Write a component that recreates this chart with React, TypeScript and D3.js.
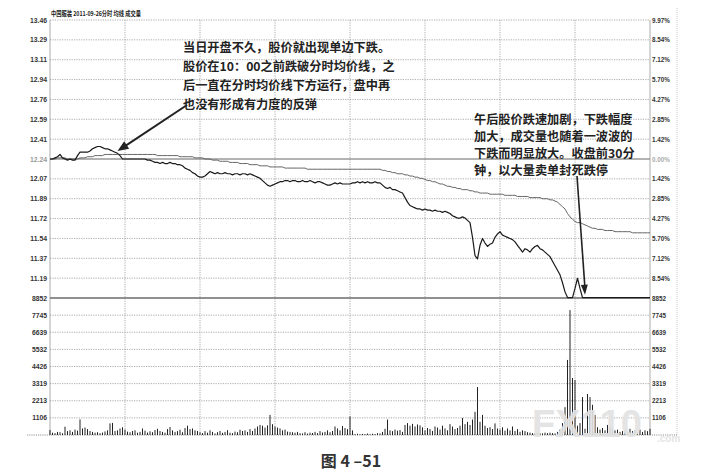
import React from "react";
import * as d3 from "d3";

// 中国服装 2011-09-26 分时图（每分钟一个点，0..240）
const prevClose = 12.24;

const price = [
  12.24, 12.24, 12.25, 12.26, 12.28, 12.25, 12.24, 12.23, 12.24, 12.23,
  12.23, 12.27, 12.3, 12.3, 12.3, 12.3, 12.31, 12.33, 12.34, 12.35,
  12.35, 12.34, 12.33, 12.33, 12.32, 12.31, 12.3, 12.29, 12.27, 12.24,
  12.24, 12.24, 12.24, 12.24, 12.24, 12.24, 12.24, 12.24, 12.24, 12.23,
  12.23, 12.22, 12.21, 12.21, 12.2, 12.21, 12.2, 12.2, 12.21, 12.2,
  12.2, 12.19, 12.19, 12.18, 12.16, 12.15, 12.14, 12.12, 12.11, 12.09,
  12.08, 12.08, 12.09, 12.11, 12.13, 12.12, 12.11, 12.12, 12.11, 12.11,
  12.12, 12.11, 12.11, 12.1, 12.11, 12.11, 12.1, 12.11, 12.11, 12.1,
  12.11, 12.1, 12.09, 12.08, 12.07, 12.05, 12.03, 12.01, 12.0, 12.01,
  12.02, 12.03, 12.04, 12.04, 12.05, 12.05, 12.04, 12.05, 12.05, 12.04,
  12.04, 12.05, 12.04, 12.04, 12.05, 12.04, 12.03, 12.04, 12.04, 12.03,
  12.02, 12.01, 12.01, 12.02, 12.03, 12.02, 12.03, 12.02, 12.02, 12.02,
  12.02, 12.03, 12.03, 12.04, 12.03, 12.04, 12.03, 12.04, 12.03, 12.03,
  12.04, 12.03, 12.03, 12.01, 11.99, 11.98, 11.99, 11.97, 11.97, 11.96,
  11.95, 11.94, 11.9, 11.86, 11.83, 11.82, 11.81, 11.8, 11.8, 11.79,
  11.8, 11.79, 11.79, 11.78, 11.79, 11.78, 11.78, 11.77, 11.78, 11.77,
  11.76, 11.74, 11.73, 11.72, 11.72, 11.73, 11.72, 11.7, 11.68, 11.55,
  11.39, 11.36, 11.48, 11.54, 11.5, 11.47, 11.49, 11.5, 11.55, 11.58,
  11.6, 11.57, 11.56, 11.55, 11.54, 11.53, 11.51, 11.48, 11.45, 11.42,
  11.45, 11.44, 11.42, 11.45, 11.47, 11.48, 11.45, 11.44, 11.42, 11.4,
  11.38, 11.34, 11.3, 11.26, 11.22, 11.15, 11.07, 11.02, 11.02, 11.02,
  11.1, 11.19, 11.1, 11.02, 11.02, 11.02, 11.02, 11.02, 11.02, 11.02,
  11.02, 11.02, 11.02, 11.02, 11.02, 11.02, 11.02, 11.02, 11.02, 11.02,
  11.02, 11.02, 11.02, 11.02, 11.02, 11.02, 11.02, 11.02, 11.02, 11.02,
  11.02,
];

// 分时均价线
const avgPrice = [
  12.24, 12.24, 12.24, 12.25, 12.25, 12.25, 12.25, 12.24, 12.24, 12.24,
  12.24, 12.24, 12.25, 12.25, 12.25, 12.26, 12.26, 12.26, 12.27, 12.27,
  12.27, 12.27, 12.28, 12.28, 12.28, 12.28, 12.28, 12.28, 12.28, 12.28,
  12.28, 12.28, 12.28, 12.28, 12.28, 12.28, 12.28, 12.28, 12.28, 12.28,
  12.28, 12.28, 12.28, 12.27, 12.27, 12.27, 12.27, 12.27, 12.27, 12.27,
  12.27, 12.27, 12.26, 12.26, 12.26, 12.26, 12.26, 12.26, 12.25, 12.25,
  12.25, 12.25, 12.24, 12.24, 12.24, 12.23, 12.23, 12.23, 12.22, 12.22,
  12.22, 12.22, 12.21, 12.21, 12.21, 12.21, 12.2, 12.2, 12.2, 12.2,
  12.19, 12.19, 12.19, 12.19, 12.18, 12.18, 12.18, 12.18, 12.17, 12.17,
  12.17, 12.17, 12.17, 12.17, 12.16, 12.16, 12.16, 12.16, 12.16, 12.16,
  12.16, 12.16, 12.16, 12.15, 12.15, 12.15, 12.15, 12.15, 12.15, 12.15,
  12.15, 12.15, 12.15, 12.15, 12.15, 12.15, 12.15, 12.15, 12.15, 12.15,
  12.15, 12.15, 12.15, 12.15, 12.15, 12.15, 12.15, 12.15, 12.15, 12.15,
  12.15, 12.15, 12.15, 12.14, 12.14, 12.13, 12.13, 12.12, 12.12, 12.11,
  12.11, 12.11, 12.1, 12.1, 12.09, 12.09, 12.08, 12.08, 12.07, 12.07,
  12.06, 12.05, 12.05, 12.04, 12.04, 12.03, 12.02, 12.02, 12.01, 12.0,
  12.0, 11.99, 11.99, 11.98, 11.98, 11.97, 11.97, 11.97, 11.96, 11.96,
  11.95, 11.95, 11.94, 11.94, 11.94, 11.94, 11.93, 11.93, 11.93, 11.93,
  11.93, 11.93, 11.92, 11.92, 11.92, 11.92, 11.92, 11.91, 11.91, 11.91,
  11.91, 11.91, 11.9, 11.9, 11.9, 11.9, 11.9, 11.89, 11.89, 11.89,
  11.88, 11.88, 11.87, 11.86, 11.84, 11.82, 11.8, 11.76, 11.73, 11.71,
  11.69, 11.68, 11.68, 11.67, 11.66, 11.65, 11.64, 11.63, 11.63, 11.62,
  11.62, 11.62, 11.61, 11.61, 11.61, 11.61, 11.6, 11.6, 11.6, 11.6,
  11.6, 11.6, 11.6, 11.59, 11.59, 11.59, 11.59, 11.59, 11.59, 11.59,
  11.59,
];

// 成交量（手）
const volume = [
  320, 150, 120, 200, 180, 110, 540, 250, 300, 200,
  350, 280, 1010, 420, 480, 380, 260, 200, 150, 180,
  120, 160, 230, 300, 750, 780, 260, 300, 420, 500,
  350, 220, 180, 260, 300, 150, 200, 420, 280, 160,
  240, 180, 320, 400, 260, 200, 150, 380, 520, 300,
  200, 250, 340, 180, 450, 600, 380, 420, 300, 260,
  180, 120, 250, 150, 300, 200, 100, 180, 260, 140,
  200, 310, 150, 120, 220, 180, 340, 260, 300, 200,
  380, 260, 420, 550, 650, 600, 480, 620, 1300, 700,
  550, 480, 420, 300, 350, 220, 200, 180, 150, 200,
  120, 100, 180, 90, 150, 130, 200, 120, 250, 160,
  200, 300, 180, 260, 550, 420, 300, 580, 450, 380,
  1200, 300, 60, 80, 50, 70, 60, 90, 50, 80,
  60, 120, 100, 200, 400, 1000, 300, 250, 350, 280,
  320, 200, 650, 770, 600, 720, 550, 680, 620, 500,
  300, 450, 380, 260, 550, 480, 350, 600, 420, 300,
  700, 550, 380, 450, 600, 1100, 700, 850, 650, 1000,
  1500, 3100, 850, 1300, 600, 450, 500, 380, 750, 420,
  350, 500, 280, 420, 300, 550, 260, 380, 200, 300,
  250, 180, 150, 120, 100, 150, 120, 100, 150, 120,
  150, 120, 100, 200, 350, 770, 1800, 4850, 8070, 3680,
  3550, 600, 770, 2450, 400, 2650, 2450, 1950, 1300, 500,
  350, 450, 300, 650, 500, 400, 300, 350, 200, 250,
  300, 200, 400, 250, 300, 180, 350, 200, 300, 250,
  400,
];

const priceLabels = ["13.46", "13.29", "13.11", "12.94", "12.76", "12.59", "12.41", "12.24", "12.07", "11.89", "11.72", "11.54", "11.37", "11.19"];
const pctLabels = ["9.97%", "8.54%", "7.12%", "5.70%", "4.27%", "2.85%", "1.42%", "0.00%", "1.42%", "2.85%", "4.27%", "5.70%", "7.12%", "8.54%"];
const volMax = 8852;
const volLabels = ["8852", "7745", "6639", "5532", "4426", "3319", "2213", "1106"];
const timeGrid = [0, 30, 60, 90, 120, 150, 180, 210, 240];

const header = "中国服装   2011-09-26分时 均线 成交量";
const note1 = ["当日开盘不久，股价就出现单边下跌。", "股价在10：00之前跌破分时均价线，之", "后一直在分时均价线下方运行，盘中再", "也没有形成有力度的反弹"];
const note2 = ["午后股价跌速加剧，下跌幅度", "加大，成交量也随着一波波的", "下跌而明显放大。收盘前30分", "钟，以大量卖单封死跌停"];

const W = 716;
const H = 473;
const left = 50;
const right = 650;
const priceTop = 20;
const priceBottom = 298;
const volBottom = 435;

const NUM = "'Liberation Sans', Arial, sans-serif";
const CJK = "'Noto Sans CJK SC', 'Noto Sans', sans-serif";

const arrowHead = (x1: number, y1: number, x2: number, y2: number, len: number, half: number) => {
  const a = Math.atan2(y2 - y1, x2 - x1);
  const bx = x2 - len * Math.cos(a);
  const by = y2 - len * Math.sin(a);
  const px = -Math.sin(a) * half;
  const py = Math.cos(a) * half;
  return `${x2},${y2} ${bx + px},${by + py} ${bx - px},${by - py}`;
};

export default function App() {
  const step = (prevClose * 0.1) / 7;
  const x = d3.scaleLinear().domain([0, 240]).range([left, right]);
  const yP = d3
    .scaleLinear()
    .domain([prevClose - 7 * step, prevClose + 7 * step])
    .range([priceBottom, priceTop]);
  const yV = d3.scaleLinear().domain([0, volMax]).range([volBottom, priceBottom]);

  const line = d3
    .line<number>()
    .x((_, i) => x(i))
    .y((d) => yP(d));

  const tip1: [number, number] = [x(27), yP(12.31)];
  const from1: [number, number] = [187, 105];
  const tip2: [number, number] = [x(214), yP(11.045)];
  const from2: [number, number] = [577, 176];

  return (
    <svg
      width={W}
      height={H}
      style={{ position: "absolute", left: 0, top: 0, background: "#fff" }}
    >
      <rect width={W} height={H} fill="#fff" />

      {/* 标题 */}
      <text
        x={51}
        y={16}
        fontFamily={CJK}
        fontSize={6.5}
        fontWeight={700}
        fill="#222"
        textLength={90}
        lengthAdjust="spacingAndGlyphs"
      >
        {header}
      </text>

      {/* 右侧外框 */}
      <line x1={677} x2={677} y1={8} y2={volBottom} stroke="#bbb" strokeWidth={0.8} strokeDasharray="1,1" />

      {/* 价格网格 */}
      {priceLabels.map((lab, k) => {
        const y = yP(prevClose + (7 - k) * step);
        const zero = k === 7;
        return (
          <g key={"p" + k}>
            <line
              x1={left}
              x2={right}
              y1={y}
              y2={y}
              stroke={zero ? "#666" : "#888"}
              strokeWidth={zero ? 1 : 0.7}
              strokeDasharray={zero ? undefined : "1.2,1.2"}
            />
            <text x={47} y={y + 2.5} textAnchor="end" fontFamily={NUM} fontSize={6.8} fontWeight={700} fill={zero ? "#999" : "#333"}>
              {lab}
            </text>
            <text x={652} y={y + 2.5} fontFamily={NUM} fontSize={6.3} fontWeight={700} fill={zero ? "#aaa" : "#333"}>
              {pctLabels[k]}
            </text>
          </g>
        );
      })}

      {/* 成交量网格 */}
      {volLabels.map((lab, k) => {
        const y = yV((volMax * (8 - k)) / 8);
        const top = k === 0;
        return (
          <g key={"v" + k}>
            <line
              x1={left}
              x2={right}
              y1={y}
              y2={y}
              stroke={top ? "#222" : "#888"}
              strokeWidth={top ? 1.1 : 0.7}
              strokeDasharray={top ? undefined : "1.2,1.2"}
            />
            <text x={47} y={y + 2.5} textAnchor="end" fontFamily={NUM} fontSize={6.8} fontWeight={700} fill="#333">
              {lab}
            </text>
            <text x={652} y={y + 2.5} fontFamily={NUM} fontSize={6.3} fontWeight={700} fill="#333">
              {lab}
            </text>
          </g>
        );
      })}
      <line x1={27} x2={677} y1={volBottom} y2={volBottom} stroke="#777" strokeWidth={0.8} strokeDasharray="1.2,1" />

      {/* 时间网格 */}
      {timeGrid.map((t) => (
        <line
          key={"t" + t}
          x1={x(t)}
          x2={x(t)}
          y1={priceTop}
          y2={volBottom}
          stroke="#888"
          strokeWidth={0.7}
          strokeDasharray={t === 0 || t === 240 ? undefined : "1.2,1.2"}
        />
      ))}

      {/* 成交量柱 */}
      {volume.map((v, i) => (
        <line key={"b" + i} x1={x(i)} x2={x(i)} y1={volBottom} y2={yV(v)} stroke="#222" strokeWidth={1} />
      ))}

      {/* 均价线与价格线 */}
      <path d={line(avgPrice) || ""} fill="none" stroke="#555" strokeWidth={0.9} />
      <path d={line(price) || ""} fill="none" stroke="#1a1a1a" strokeWidth={1.2} strokeLinejoin="round" />

      {/* 水印 */}
      <g fill="#e2e2e2" opacity={0.92} fontFamily={NUM} fontWeight={700}>
        <text x={532} y={437} fontSize={38}>FX110</text>
        <text x={657} y={442} fontSize={10}>.com</text>
      </g>

      {/* 注释 */}
      <g fontFamily={CJK} fontSize={12.2} fontWeight={700} fill="#222">
        {note1.map((s, k) => (
          <text key={"n1" + k} x={183} y={52 + k * 19}>{s}</text>
        ))}
        {note2.map((s, k) => (
          <text key={"n2" + k} x={474} y={124 + k * 17}>{s}</text>
        ))}
      </g>

      <line x1={from1[0]} y1={from1[1]} x2={tip1[0] + 6} y2={tip1[1] - 4} stroke="#222" strokeWidth={2} />
      <polygon points={arrowHead(from1[0], from1[1], tip1[0], tip1[1], 11, 4.5)} fill="#222" />
      <line x1={from2[0]} y1={from2[1]} x2={tip2[0]} y2={tip2[1] - 6} stroke="#222" strokeWidth={1.6} />
      <polygon points={arrowHead(from2[0], from2[1], tip2[0], tip2[1], 10, 3.5)} fill="#222" />

      {/* 图题 */}
      <text x={351} y={467} textAnchor="middle" fontFamily={CJK} fontSize={16} fontWeight={700} fill="#333">
        图 4 –51
      </text>
    </svg>
  );
}
